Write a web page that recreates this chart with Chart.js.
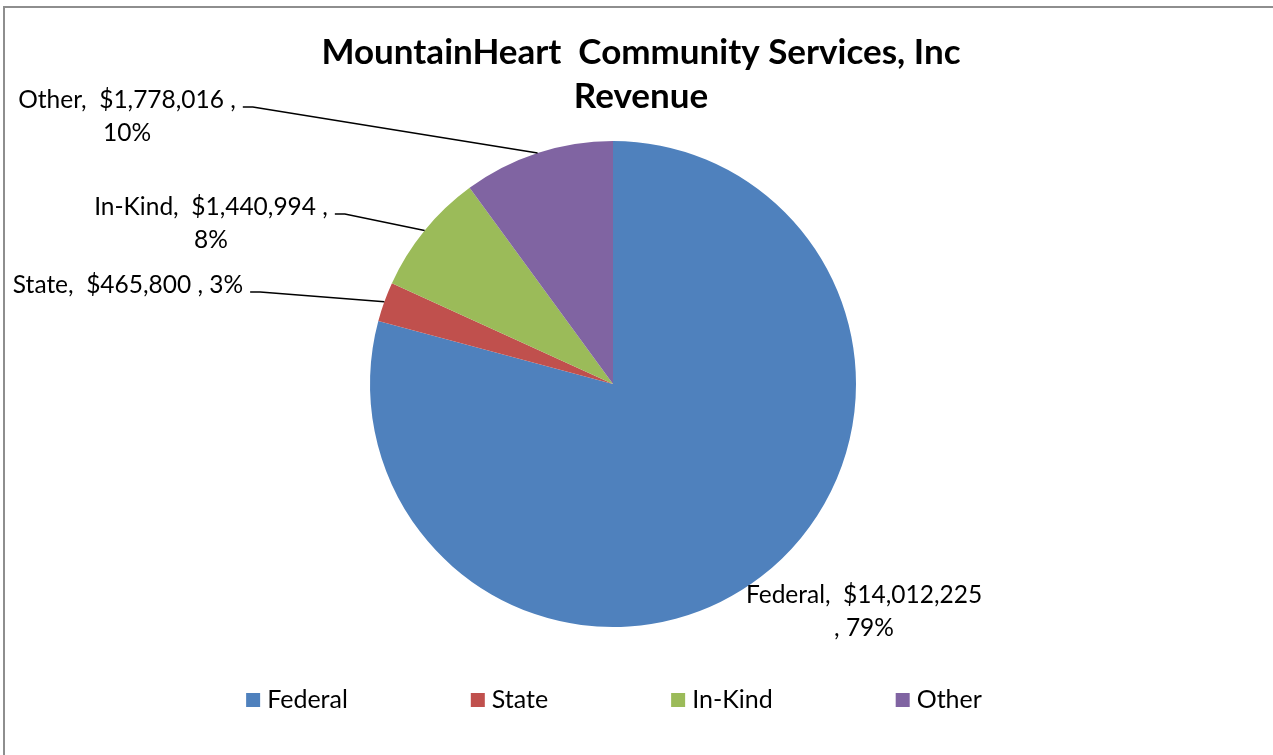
<!DOCTYPE html>
<html>
<head>
<meta charset="utf-8">
<script src="https://cdn.jsdelivr.net/npm/chart.js@4/dist/chart.umd.min.js"></script>
<style>
  html, body { margin: 0; padding: 0; background: #fff; overflow: hidden; }
  #frame {
    position: absolute; left: 3px; top: 6px; width: 1300px; height: 800px;
    border-top: 2px solid #8e8e8e; border-left: 2px solid #8e8e8e;
  }
  #myChart { position: absolute; left: 0; top: 0; }
</style>
</head>
<body>
<div id="frame"></div>
<canvas id="myChart" width="1273" height="755"></canvas>
<script>
/* data */
const categories = ['Federal', 'State', 'In-Kind', 'Other'];
const revenue = [14012225, 465800, 1440994, 1778016];
const sliceColors = ['#4F81BD', '#C0504D', '#9BBB59', '#8064A2'];
const titleLines = ['MountainHeart  Community Services, Inc', 'Revenue'];

/* where the data labels sit (x = centre of text block, y = first line) */
const labelSpots = [
    { x: 864, y: 595, wrap: 'beforePct', leader: false },
    { x: 128, y: 285, wrap: 'none', leader: true },
    { x: 211, y: 207, wrap: 'afterValue', leader: true },
    { x: 127, y: 100, wrap: 'afterValue', leader: true }
];

const FONT = 'Lato, "Open Sans", sans-serif';

function money(v) {
    return '$' + v.toLocaleString('en-US');
}

function labelLines(i, pct) {
    let head = categories[i] + ',  ' + money(revenue[i]) + ' ,';
    let tail = pct + '%';
    let w = labelSpots[i].wrap;
    if (w === 'none') return [head + ' ' + tail];
    if (w === 'afterValue') return [head, tail];
    // Federal: break before the comma
    return [categories[i] + ',  ' + money(revenue[i]), ', ' + tail];
}

const pieExtras = {
    id: 'pieExtras',
    afterDraw(chart) {
        const ctx = chart.ctx;
        const meta = chart.getDatasetMeta(0);
        const total = revenue.reduce((a, b) => a + b, 0);
        ctx.save();

        // title
        ctx.fillStyle = '#000';
        ctx.textAlign = 'center';
        ctx.textBaseline = 'middle';
        ctx.font = 'bold 35px ' + FONT;
        ctx.fillText(titleLines[0], 641, 53);
        ctx.fillText(titleLines[1], 641, 97);

        // data labels + leader lines
        ctx.font = '24.5px ' + FONT;
        meta.data.forEach((arc, i) => {
            const spot = labelSpots[i];
            const pct = Math.round(revenue[i] / total * 100);
            const lines = labelLines(i, pct);
            lines.forEach((t, k) => {
                ctx.fillText(t, spot.x, spot.y + k * 33);
            });
            if (spot.leader) {
                const p = arc.getProps(['x', 'y', 'startAngle', 'endAngle', 'outerRadius'], true);
                const mid = (p.startAngle + p.endAngle) / 2;
                const ex = p.x + Math.cos(mid) * p.outerRadius;
                const ey = p.y + Math.sin(mid) * p.outerRadius;
                const right = spot.x + ctx.measureText(lines[0]).width / 2;
                const ly = spot.y + 7;
                ctx.beginPath();
                ctx.moveTo(right + 7, ly);
                ctx.lineTo(right + 17, ly);
                ctx.lineTo(ex, ey);
                ctx.strokeStyle = '#000';
                ctx.lineWidth = 1.5;
                ctx.stroke();
            }
        });

        // legend
        ctx.font = '25px ' + FONT;
        ctx.textAlign = 'left';
        const box = 14, gapText = 7, gapItem = 123;
        const widths = categories.map(c => box + gapText + ctx.measureText(c).width);
        const full = widths.reduce((a, b) => a + b, 0) + gapItem * (categories.length - 1);
        let x = 614 - full / 2;
        const ly = 700;
        categories.forEach((c, i) => {
            ctx.fillStyle = sliceColors[i];
            ctx.fillRect(x, ly - box / 2, box, box);
            ctx.fillStyle = '#000';
            ctx.fillText(c, x + box + gapText, ly);
            x += widths[i] + gapItem;
        });
        ctx.restore();
    }
};

const chart = new Chart(document.getElementById('myChart'), {
    type: 'pie',
    data: {
        labels: categories,
        datasets: [{
            data: revenue,
            backgroundColor: sliceColors,
            borderWidth: 0
        }]
    },
    options: {
        responsive: false,
        animation: false,
        devicePixelRatio: 1,
        layout: { padding: { left: 370, right: 417, top: 141, bottom: 128 } },
        plugins: {
            legend: { display: false },
            title: { display: false },
            tooltip: { enabled: false }
        }
    },
    plugins: [pieExtras]
});
</script>
</body>
</html>
